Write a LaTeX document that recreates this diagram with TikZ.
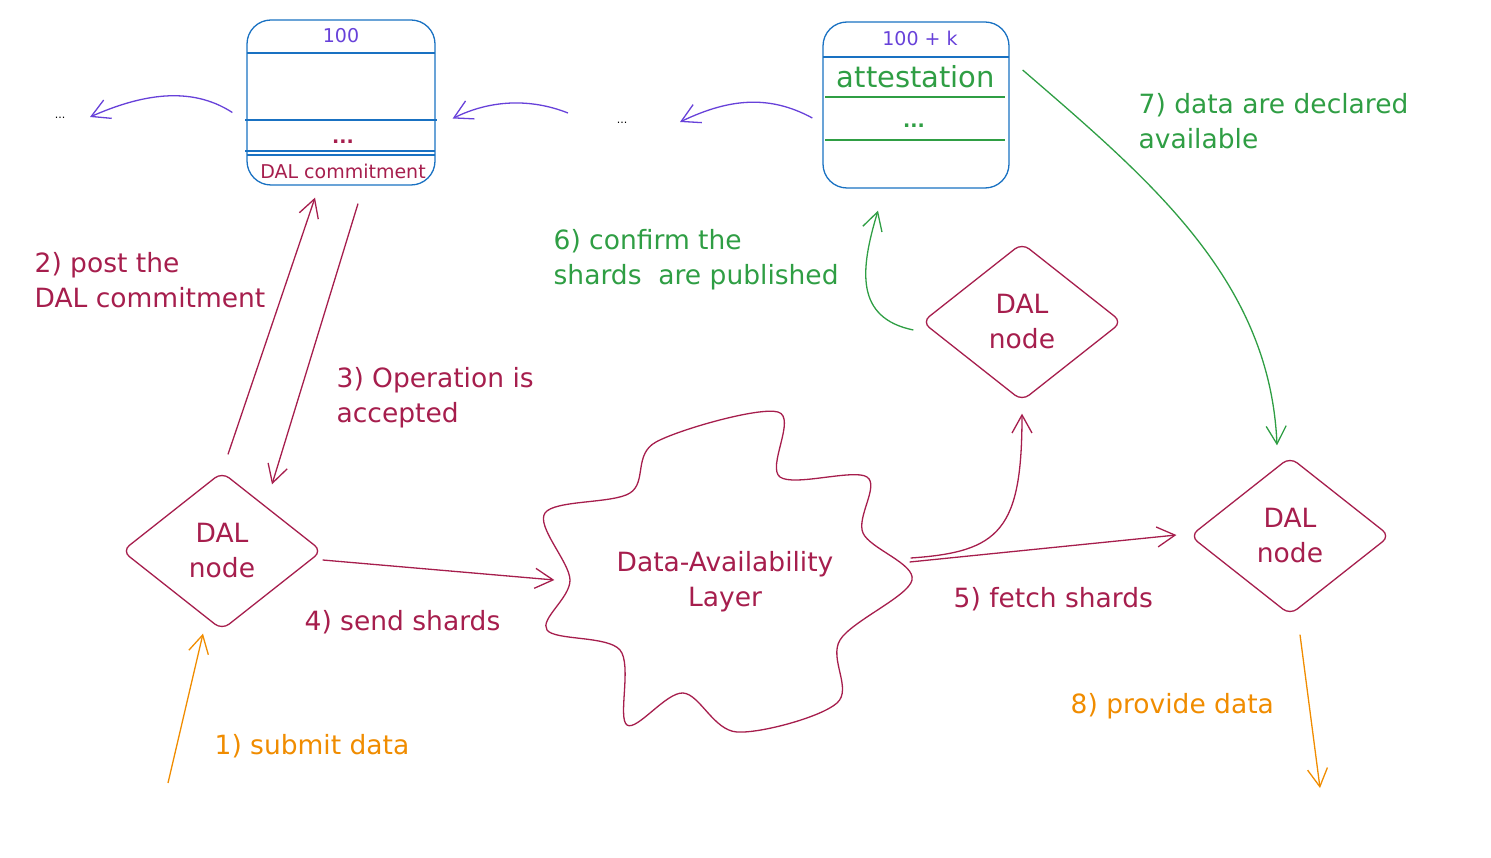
\documentclass[tikz,border=0pt]{standalone}
\usepackage{fontspec}
\setmainfont{DejaVu Sans}
\usepackage{tikz}
\usetikzlibrary{arrows.meta}
\usetikzlibrary{shapes.geometric}
\definecolor{wine}{HTML}{A61E4D}
\definecolor{chainviolet}{HTML}{6741D9}
\definecolor{sky}{HTML}{1971C2}
\definecolor{leaf}{HTML}{2F9E44}
\definecolor{amber}{HTML}{F08C00}

\begin{document}
\begin{tikzpicture}[x=1pt,y=-1pt,line width=1.3pt]
    \tikzstyle{txt} = [font=\fontsize{26.5}{35}\selectfont]
    \tikzstyle{small} = [font=\fontsize{19}{22}\selectfont]
    \tikzstyle{dots} = [font=\fontsize{19}{22}\selectfont\bfseries]
    \tikzstyle{lbl} = [txt,align=left,anchor=north west,inner sep=0pt]
    \tikzstyle{block} = [draw=sky,rounded corners=24pt,inner sep=0pt]
    \tikzstyle{dal} = [draw=wine,text=wine,diamond,rounded corners=9pt,inner sep=0pt,
                       minimum width=200pt,minimum height=158pt,align=center,txt]
    \tikzstyle{arr} = [draw,-{Straight Barb[length=18pt,width=20pt]}]
    \useasboundingbox (0,0) rectangle (1491,858);
    %%
    \begin{scope}
      \node [block,minimum width=188pt,minimum height=165pt] (blk1) at (341,102.5) {};
      \draw [sky] (247,53) -- (435,53); \draw [sky] (245,120) -- (437,120);
      \draw [sky] (245,151) -- (435,151); \draw [sky] (247,155) -- (435,155);
      \node [small,text=chainviolet] (h1) at (341,36) {100};
      \node [dots,text=wine] (e1) at (343,142) {...};
      \node [small,text=wine] (c1) at (343,171) {DAL commitment};
    \end{scope}
    %%
    \begin{scope}
      \node [block,minimum width=186pt,minimum height=166pt] (blk2) at (916,105) {};
      \draw [sky] (823,57) -- (1009,57);
      \draw [leaf] (825,97) -- (1005,97); \draw [leaf] (825,140) -- (1005,140);
      \node [small,text=chainviolet] (h2) at (920,38) {100 + k};
      \node [font=\fontsize{29}{34}\selectfont,text=leaf] (att) at (916,77) {attestation};
      \node [dots,text=leaf] (e2) at (914,126) {...};
    \end{scope}
    %%
    \node [font=\fontsize{11}{14}\selectfont] (dots1) at (60,118) {...};
    \node [font=\fontsize{11}{14}\selectfont] (dots2) at (622,123) {...};
    \path [arr,chainviolet] ([shift={(-14,10)}]blk1.west) .. controls (190,85) and (140,95) .. ([shift={(30,-1)}]dots1.center);
    \path [arr,chainviolet] ([shift={(-54,-10)}]dots2.center) .. controls (530,98) and (490,100) .. ([shift={(17,16)}]blk1.east);
    \path [arr,chainviolet] ([shift={(-10,13)}]blk2.west) .. controls (770,95) and (730,98) .. ([shift={(58,-1)}]dots2.center);
    %%
    \node [dal] (dal1) at (222,551) {DAL\\node};
    \node [dal] (dal2) at (1022,322) {DAL\\node};
    \node [dal] (dal3) at (1290,536) {DAL\\node};
    \node [txt,text=wine,align=center,minimum width=366pt,minimum height=322pt,inner sep=0pt] (layer) at (725,582) {Data-Availability\\Layer};
    \draw [wine] plot [smooth cycle,tension=0.55] coordinates {
      (656,442) (778,412) (780,477) (867,477) (863,533) (912,580) (840,640)
      (837,703) (737,732) (683,693) (627,725) (620,650) (547,630) (570,580)
      (545,513) (630,493)};
    %%
    \coordinate (src) at (168,783);
    \coordinate (sink) at (1320,788);
    \path [arr,amber] (src) -- ([shift={(-19,3)}]dal1.south);
    \path [arr,wine] ([shift={(6,-17)}]dal1.north) -- ([shift={(-26,12)}]blk1.south);
    \path [arr,wine] ([shift={(17,18)}]blk1.south) -- ([shift={(50,13)}]dal1.north);
    \path [arr,wine] ([shift={(0,9)}]dal1.east) -- ([shift={(13,-2)}]layer.west);
    \path [arr,wine] ([shift={(1,-20)}]layer.east) -- ([shift={(-13,-1)}]dal3.west);
    \path [arr,wine] ([shift={(2,-24)}]layer.east) .. controls (1000,552) and (1022,530) .. ([shift={(0,12)}]dal2.south);
    \path [arr,leaf] ([shift={(-8,8)}]dal2.west) .. controls (855,318) and (860,270) .. ([shift={(-38,22)}]blk2.south);
    \path [arr,leaf] ([shift={(13,-35)}]blk2.east) .. controls (1150,180) and (1270,280) .. ([shift={(-13,-11)}]dal3.north);
    \path [arr,amber] ([shift={(10,19)}]dal3.south) -- (sink);
    %%
    \node [lbl,text=amber] (l1) at (214,734) {1) submit data};
    \node [lbl,text=wine] (l2) at (34,252) {2) post the\\DAL commitment};
    \node [lbl,text=wine] (l3) at (336,367) {3) Operation is\\accepted};
    \node [lbl,text=wine] (l4) at (304,610) {4) send shards};
    \node [lbl,text=wine] (l5) at (953,587) {5) fetch shards};
    \node [lbl,text=leaf] (l6) at (553,229) {6) confirm the\\shards\ \ are published};
    \node [lbl,text=leaf] (l7) at (1138,93) {7) data are declared\\available};
    \node [lbl,text=amber] (l8) at (1070,693) {8) provide data};
\end{tikzpicture}
\end{document}
